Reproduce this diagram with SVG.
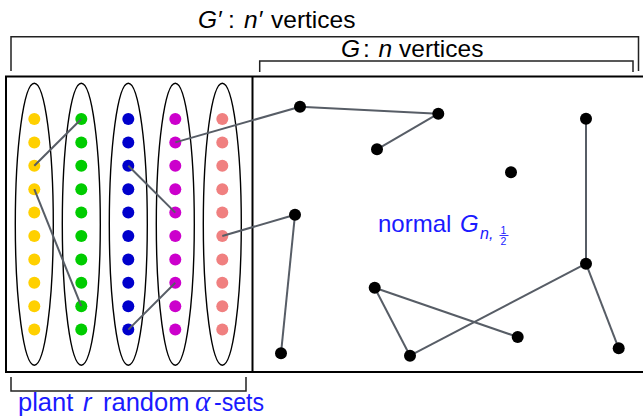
<svg xmlns="http://www.w3.org/2000/svg" width="643" height="416" viewBox="0 0 643 416">
<style>
.lbl{font-family:"Liberation Sans","DejaVu Sans",sans-serif;fill:#000}
.blue{fill:#1a1aff}
.it{font-style:italic}
.gr{font-family:"Liberation Serif","DejaVu Serif",serif;font-style:italic}
.br{fill:none;stroke:#222;stroke-width:1.5}
.frame{fill:none;stroke:#000;stroke-width:2}
.ell{fill:none;stroke:#000;stroke-width:1.4}
.e{stroke:#575d66;stroke-width:2;fill:none}
.y{fill:#ffd000}.g{fill:#00cc00}.b{fill:#0000cc}.m{fill:#cc00cc}.s{fill:#f08080}
.k{fill:#000}
</style>
<defs>
<g id="col">
<circle cx="0" cy="119" r="6"/><circle cx="0" cy="142.4" r="6"/><circle cx="0" cy="165.8" r="6"/><circle cx="0" cy="189.2" r="6"/><circle cx="0" cy="212.6" r="6"/><circle cx="0" cy="236" r="6"/><circle cx="0" cy="259.4" r="6"/><circle cx="0" cy="282.8" r="6"/><circle cx="0" cy="306.2" r="6"/><circle cx="0" cy="329.6" r="6"/>
</g>
</defs>

<g id="labels">
<text class="lbl" font-size="24.5" y="28"><tspan class="it" x="198">G′</tspan><tspan x="228">:</tspan><tspan class="it" x="244">n′</tspan><tspan x="271">vertices</tspan></text>
<text class="lbl" font-size="24.5" y="56.5"><tspan class="it" x="341">G</tspan><tspan x="363">:</tspan><tspan class="it" x="378.5">n</tspan><tspan x="399">vertices</tspan></text>
<text class="lbl blue" font-size="25.5" y="410.5"><tspan x="18">plant</tspan><tspan class="it" x="83">r</tspan><tspan x="103">random</tspan></text>
<text class="gr blue" font-size="29" x="195" y="410.5">α</text>
<text class="lbl blue" font-size="25.5" x="214" y="410.5" textLength="50" lengthAdjust="spacingAndGlyphs">-sets</text>
<text class="lbl blue" font-size="24" y="231.5"><tspan x="378">normal</tspan><tspan class="it" x="460">G</tspan></text>
<text class="lbl blue it" font-size="16" x="480" y="238.5">n,</text>
<text class="lbl blue" font-size="10.5" x="500.5" y="233.5">1</text>
<line x1="499.5" y1="235.5" x2="508.5" y2="235.5" stroke="#1a1aff" stroke-width="0.9"/>
<text class="lbl blue" font-size="10.5" x="500.5" y="245">2</text>
</g>

<g id="brackets">
<path class="br" d="M11,71 V36.7 H638.5 V71"/>
<path class="br" d="M259.7,72 V61 H633 V72"/>
<path class="br" d="M11,377 V391 H246 V377"/>
</g>

<g id="frame">
<rect class="frame" x="6" y="76.5" width="650" height="295.5"/>
<line class="frame" x1="252.5" y1="76.5" x2="252.5" y2="372"/>
</g>

<g id="sets">
<g id="set1"><ellipse class="ell" cx="34.3" cy="224.2" rx="19" ry="141"/><use href="#col" x="34.3" class="y"/></g>
<g id="set2"><ellipse class="ell" cx="81.3" cy="224.2" rx="19" ry="141"/><use href="#col" x="81.3" class="g"/></g>
<g id="set3"><ellipse class="ell" cx="128.3" cy="224.2" rx="19" ry="141"/><use href="#col" x="128.3" class="b"/></g>
<g id="set4"><ellipse class="ell" cx="175.3" cy="224.2" rx="19" ry="141"/><use href="#col" x="175.3" class="m"/></g>
<g id="set5"><ellipse class="ell" cx="222.3" cy="224.2" rx="19" ry="141"/><use href="#col" x="222.3" class="s"/></g>
</g>

<g id="connectors">
<line class="e" x1="34.3" y1="165.8" x2="81.3" y2="119"/>
<line class="e" x1="34.3" y1="189.2" x2="81.3" y2="306.2"/>
<line class="e" x1="128.3" y1="165.8" x2="175.3" y2="212.6"/>
<line class="e" x1="128.3" y1="329.6" x2="175.3" y2="282.8"/>
<line class="e" x1="175.3" y1="142.4" x2="300" y2="106.7"/>
<line class="e" x1="222.3" y1="236" x2="295" y2="214.7"/>
<line class="e" x1="300" y1="106.7" x2="438.3" y2="113.7"/>
<line class="e" x1="438.3" y1="113.7" x2="377" y2="149.3"/>
<line class="e" x1="586" y1="118.7" x2="586" y2="263.7"/>
<line class="e" x1="295" y1="214.7" x2="281" y2="353.3"/>
<line class="e" x1="586" y1="263.7" x2="410" y2="355.7"/>
<line class="e" x1="586" y1="263.7" x2="618.7" y2="348.3"/>
<line class="e" x1="374.7" y1="287.7" x2="410" y2="355.7"/>
<line class="e" x1="374.7" y1="287.7" x2="517.7" y2="337"/>
</g>

<g id="nodes" class="k">
<circle id="nA" cx="300" cy="106.7" r="6"/>
<circle id="nB" cx="438.3" cy="113.7" r="6"/>
<circle id="nC" cx="377" cy="149.3" r="6"/>
<circle id="nD" cx="511" cy="172.3" r="6"/>
<circle id="nE" cx="586" cy="118.7" r="6"/>
<circle id="nF" cx="295" cy="214.7" r="6"/>
<circle id="nG" cx="586" cy="263.7" r="6"/>
<circle id="nH" cx="374.7" cy="287.7" r="6"/>
<circle id="nI" cx="517.7" cy="337" r="6"/>
<circle id="nJ" cx="281" cy="353.3" r="6"/>
<circle id="nK" cx="410" cy="355.7" r="6"/>
<circle id="nL" cx="618.7" cy="348.3" r="6"/>
</g>
</svg>
